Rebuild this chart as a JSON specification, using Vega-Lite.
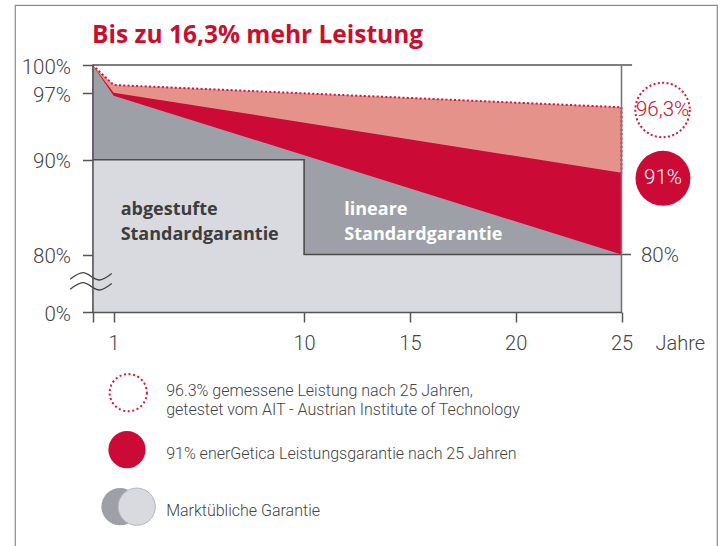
{
  "$schema": "https://vega.github.io/schema/vega-lite/v6.json",
  "width": 702,
  "height": 545,
  "autosize": {"type": "none"},
  "padding": {"left": 15, "top": 5, "right": 9, "bottom": 0},
  "background": "white",
  "title": {
    "text": "Bis zu 16,3% mehr Leistung",
    "anchor": "start",
    "frame": "group",
    "font": "Open Sans",
    "fontSize": 24.5,
    "fontWeight": "bold",
    "color": "#C8102E",
    "baseline": "alphabetic",
    "offset": 0,
    "dx": 77,
    "dy": 62
  },
  "config": {"view": {"stroke": "#8a8a8a", "strokeWidth": 1.2}, "font": "Roboto"},
  "encoding": {
    "x": {
      "field": "year",
      "type": "quantitative",
      "scale": {"domain": [0, 25], "range": [77.5, 606.5], "nice": false, "zero": false},
      "axis": {
        "values": [0, 1, 10, 15, 20, 25],
        "labelExpr": "datum.value == 0 ? '' : datum.label",
        "offset": -238,
        "tickSize": 10,
        "labelPadding": 27,
        "labelBaseline": "alphabetic",
        "labelFont": "Roboto",
        "labelFontSize": 20,
        "labelFontWeight": 300,
        "labelColor": "#444444",
        "labelFlush": false,
        "labelOverlap": false,
        "domainColor": "#555555",
        "domainWidth": 1.5,
        "tickColor": "#555555",
        "tickWidth": 1.5,
        "grid": false,
        "title": "Jahre",
        "titleX": 640,
        "titleY": 37,
        "titleAlign": "left",
        "titleBaseline": "alphabetic",
        "titleFont": "Roboto",
        "titleFontSize": 20,
        "titleFontWeight": 300,
        "titleColor": "#444444",
        "zindex": 1
      }
    }
  },
  "layer": [
    {
      "encoding": {
        "y": {
          "field": "value",
          "type": "quantitative",
          "scale": {"domain": [0, 80, 100], "range": [307, 249.5, 60], "nice": false, "zero": false},
          "axis": {
            "values": [0, 80, 90, 97, 100],
            "labelExpr": "datum.value + '%'",
            "offset": -77.5,
            "tickSize": 10,
            "labelPadding": 12,
            "labelOffset": 2,
            "labelFont": "Roboto",
            "labelFontSize": 20.5,
            "labelFontWeight": 300,
            "labelColor": "#444444",
            "domainColor": "#555555",
            "domainWidth": 1.5,
            "tickColor": "#555555",
            "tickWidth": 1.5,
            "grid": false,
            "title": null,
            "zindex": 1
          }
        }
      },
      "layer": [
        {
          "data": {"values": [{"year": 0, "value": 100}, {"year": 1, "value": 97.89}, {"year": 25, "value": 95.54}]},
          "mark": {"type": "area", "color": "#E5928A"},
          "encoding": {"y2": {"datum": 0}}
        },
        {
          "data": {"values": [{"year": 0, "value": 100}, {"year": 1, "value": 97.08}, {"year": 25, "value": 88.63}]},
          "mark": {"type": "area", "color": "#CC0A36"},
          "encoding": {"y2": {"datum": 0}}
        },
        {
          "data": {"values": [{"year": 0, "value": 100}, {"year": 1, "value": 96.76}, {"year": 25, "value": 80}]},
          "mark": {"type": "area", "color": "#9DA0A7"},
          "encoding": {"y2": {"datum": 0}}
        },
        {
          "data": {"values": [{"year": 0, "value": 90}, {"year": 10, "value": 80}, {"year": 25, "value": 80}]},
          "mark": {"type": "area", "color": "#D9DADF", "interpolate": "step-after"},
          "encoding": {"y2": {"datum": 0}}
        },
        {
          "data": {"values": [{"year": 0, "value": 90}, {"year": 10, "value": 80}, {"year": 25, "value": 80}]},
          "mark": {"type": "line", "color": "#4d4d4d", "strokeWidth": 1.6, "interpolate": "step-after"},
          "encoding": {}
        },
        {
          "data": {"values": [
            {"year": 0, "value": 100, "o": 1},
            {"year": 1, "value": 97.89, "o": 2},
            {"year": 25, "value": 95.54, "o": 3},
            {"year": 25, "value": 88.63, "o": 4}
          ]},
          "mark": {"type": "line", "color": "#D2163F", "strokeWidth": 2, "strokeDash": [2, 2.3]},
          "encoding": {"order": {"field": "o", "type": "quantitative"}}
        },
        {
          "data": {"values": [{"year": 0, "year2": 25.5, "value": 100}]},
          "mark": {"type": "rule", "color": "#555555", "strokeWidth": 1.5},
          "encoding": {"x2": {"field": "year2"}}
        },
        {
          "data": {"values": [{"year": 25, "year2": 25.45, "value": 80}]},
          "mark": {"type": "rule", "color": "#555555", "strokeWidth": 1.5},
          "encoding": {"x2": {"field": "year2"}}
        },
        {
          "data": {"values": [{"year": 25, "value": 100, "value2": 0}]},
          "mark": {"type": "rule", "color": "#777777", "strokeWidth": 1.6},
          "encoding": {"y2": {"field": "value2"}}
        },
        {
          "data": {"values": [{"year": 1.33, "value": 84.7, "label": "abgestufte\nStandardgarantie"}]},
          "mark": {"type": "text", "align": "left", "baseline": "middle", "font": "Open Sans", "fontSize": 18, "fontWeight": "bold", "color": "#3d3d3d", "lineBreak": "\n", "lineHeight": 25},
          "encoding": {"text": {"field": "label"}}
        },
        {
          "data": {"values": [{"year": 11.9, "value": 84.7, "label": "lineare\nStandardgarantie"}]},
          "mark": {"type": "text", "align": "left", "baseline": "middle", "font": "Open Sans", "fontSize": 18, "fontWeight": "bold", "color": "#ffffff", "lineBreak": "\n", "lineHeight": 25},
          "encoding": {"text": {"field": "label"}}
        },
        {
          "data": {"values": [{"year": 26.94, "value": 95.25}]},
          "mark": {"type": "point", "shape": "circle", "size": 2961, "filled": false, "stroke": "#D2163F", "strokeWidth": 2, "strokeDash": [2, 2.4], "opacity": 1}
        },
        {
          "data": {"values": [{"year": 26.96, "value": 88.04}]},
          "mark": {"type": "point", "shape": "circle", "size": 3019, "filled": true, "color": "#CC0A36", "opacity": 1}
        },
        {
          "data": {"values": [{"year": 26.94, "value": 95.25, "label": "96,3%"}]},
          "mark": {"type": "text", "align": "center", "baseline": "middle", "font": "Roboto", "fontSize": 20.5, "fontWeight": 300, "color": "#C8102E"},
          "encoding": {"text": {"field": "label"}}
        },
        {
          "data": {"values": [{"year": 26.96, "value": 88.04, "label": "91%"}]},
          "mark": {"type": "text", "align": "center", "baseline": "middle", "font": "Roboto", "fontSize": 20.5, "fontWeight": 300, "color": "#ffffff"},
          "encoding": {"text": {"field": "label"}}
        },
        {
          "data": {"values": [{"year": 25.92, "value": 80, "label": "80%"}]},
          "mark": {"type": "text", "align": "left", "baseline": "middle", "dy": 1, "font": "Roboto", "fontSize": 20.5, "fontWeight": 300, "color": "#444444"},
          "encoding": {"text": {"field": "label"}}
        },
        {
          "data": {"values": [
            {"wave": "a", "year": -1.06, "value": 45.5},
            {"wave": "a", "year": -0.45, "value": 54.7},
            {"wave": "a", "year": 0.32, "value": 44.5},
            {"wave": "a", "year": 0.91, "value": 53.5},
            {"wave": "b", "year": -1.06, "value": 31.5},
            {"wave": "b", "year": -0.45, "value": 40.8},
            {"wave": "b", "year": 0.32, "value": 30.6},
            {"wave": "b", "year": 0.91, "value": 39.6}
          ]},
          "mark": {"type": "line", "color": "#444444", "strokeWidth": 1.3, "interpolate": "monotone"},
          "encoding": {"detail": {"field": "wave"}}
        }
      ]
    },
    {
      "encoding": {
        "y": {
          "field": "row",
          "type": "quantitative",
          "scale": {"domain": [0, 4], "range": [330.7, 558.7], "nice": false, "zero": false},
          "axis": null
        }
      },
      "layer": [
        {
          "data": {"values": [{"year": 1.69, "row": 1}]},
          "mark": {"type": "point", "shape": "circle", "size": 1385, "filled": false, "stroke": "#D2163F", "strokeWidth": 2, "strokeDash": [2, 2.6], "opacity": 1}
        },
        {
          "data": {"values": [{"year": 1.63, "row": 2}]},
          "mark": {"type": "point", "shape": "circle", "size": 1385, "filled": true, "color": "#CC0A36", "opacity": 1}
        },
        {
          "data": {"values": [{"year": 1.3, "row": 3}]},
          "mark": {"type": "point", "shape": "circle", "size": 1385, "filled": true, "color": "#9DA0A7", "opacity": 1}
        },
        {
          "data": {"values": [{"year": 2.09, "row": 3}]},
          "mark": {"type": "point", "shape": "circle", "size": 1385, "filled": true, "fill": "#D9DADF", "stroke": "#b5b7bc", "strokeWidth": 1, "opacity": 1}
        },
        {
          "data": {"values": [
            {"year": 3.48, "row": 1, "label": "96.3% gemessene Leistung nach 25 Jahren,\ngetestet vom AIT - Austrian Institute of Technology"}
          ]},
          "mark": {"type": "text", "align": "left", "baseline": "middle", "dy": -2, "font": "Roboto", "fontSize": 16, "fontWeight": 300, "color": "#444444", "lineBreak": "\n", "lineHeight": 19.5},
          "encoding": {"text": {"field": "label"}}
        },
        {
          "data": {"values": [
            {"year": 3.48, "row": 2, "label": "91% enerGetica Leistungsgarantie nach 25 Jahren"},
            {"year": 3.48, "row": 3, "label": "Marktübliche Garantie"}
          ]},
          "mark": {"type": "text", "align": "left", "baseline": "middle", "dy": 4, "font": "Roboto", "fontSize": 16, "fontWeight": 300, "color": "#444444"},
          "encoding": {"text": {"field": "label"}}
        }
      ]
    }
  ],
  "resolve": {"scale": {"y": "independent"}}
}
